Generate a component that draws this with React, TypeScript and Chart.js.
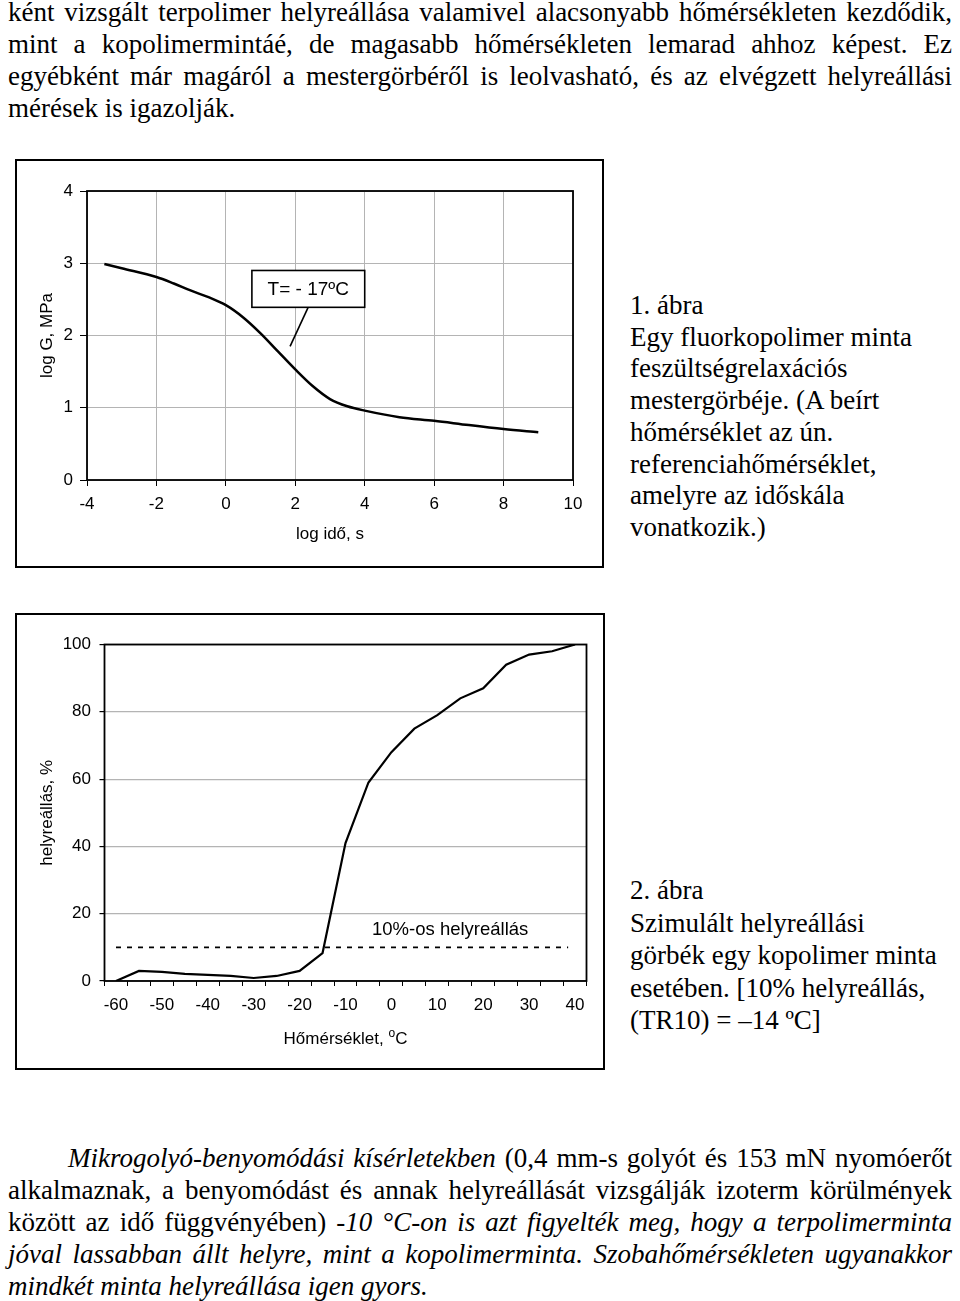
import React, { useEffect, useRef } from "react";
import { Chart, registerables } from "chart.js";

Chart.register(...registerables);

// ---- Chart 1: stress-relaxation master curve ----
const logTime = [-3.5, -3, -2, -1.5, -1, -0.5, 0, 0.5, 1, 1.5, 2, 2.5, 3, 3.5, 4, 5, 6, 7, 8, 9];
const logG = [2.99, 2.93, 2.81, 2.72, 2.62, 2.53, 2.42, 2.25, 2.03, 1.78, 1.53, 1.3, 1.12, 1.02, 0.96, 0.87, 0.82, 0.76, 0.705, 0.66];
const chart1XTitle = "log idő, s";
const chart1YTitle = "log G, MPa";
const chart1Label = "T= - 17ºC";
const chart1LabelBox = [0.75, 4.0, 2.9, 2.39]; // x1, x2, yTop, yBottom (data units)
const chart1Leader = [2.37, 2.39, 1.85, 1.85]; // x1, y1, x2, y2 (data units)

// ---- Chart 2: recovery vs temperature ----
const temps = [-60, -55, -50, -45, -40, -35, -30, -25, -20, -15, -10, -5, 0, 5, 10, 15, 20, 25, 30, 35, 40];
const recovery = [0, 3, 2.7, 2.1, 1.8, 1.5, 0.9, 1.5, 3, 8.3, 41, 59, 68, 75, 79, 84, 87, 94, 97, 98, 100];
const thresholdX = [-60, 38.5];
const thresholdY = [10, 10];
const thresholdLabel = "10%-os helyreállás";
const thresholdLabelPos = [12.8, 15.1];
const chart2YTitle = "helyreállás, %";
const chart2XTitleMain = "Hőmérséklet, ";
const chart2XTitleSup = "o";
const chart2XTitleEnd = "C";

const SANS = "'Liberation Sans', Arial, sans-serif";
const SERIF = "'Liberation Serif', 'Times New Roman', serif";
const GRID = "#b4b4b4";
const FS = 17;

Chart.defaults.font.family = SANS;
Chart.defaults.color = "#000";

function frame(chart: any) {
  const { ctx, chartArea: a } = chart;
  ctx.save();
  ctx.strokeStyle = "#000";
  ctx.lineWidth = 1.8;
  ctx.strokeRect(a.left, a.top, a.right - a.left, a.bottom - a.top);
  ctx.restore();
}

const chart1Plugin = {
  id: "chart1deco",
  afterDraw(chart: any) {
    frame(chart);
    const { ctx, scales } = chart;
    const x = scales.x, y = scales.y;
    ctx.save();
    ctx.strokeStyle = "#000";
    ctx.lineWidth = 1.6;
    ctx.beginPath();
    ctx.moveTo(x.getPixelForValue(chart1Leader[0]), y.getPixelForValue(chart1Leader[1]));
    ctx.lineTo(x.getPixelForValue(chart1Leader[2]), y.getPixelForValue(chart1Leader[3]));
    ctx.stroke();
    const bx1 = x.getPixelForValue(chart1LabelBox[0]);
    const bx2 = x.getPixelForValue(chart1LabelBox[1]);
    const by1 = y.getPixelForValue(chart1LabelBox[2]);
    const by2 = y.getPixelForValue(chart1LabelBox[3]);
    ctx.fillStyle = "#fff";
    ctx.fillRect(bx1, by1, bx2 - bx1, by2 - by1);
    ctx.strokeRect(bx1, by1, bx2 - bx1, by2 - by1);
    ctx.fillStyle = "#000";
    ctx.font = `19px ${SANS}`;
    ctx.textAlign = "center";
    ctx.textBaseline = "middle";
    ctx.fillText(chart1Label, (bx1 + bx2) / 2, (by1 + by2) / 2 + 1);
    ctx.restore();
  },
};

const chart2Plugin = {
  id: "chart2deco",
  afterDraw(chart: any) {
    frame(chart);
    const { ctx, scales, chartArea: a } = chart;
    ctx.save();
    ctx.fillStyle = "#000";
    ctx.textBaseline = "middle";
    ctx.textAlign = "center";
    ctx.font = `18.5px ${SANS}`;
    ctx.fillText(
      thresholdLabel,
      scales.x2.getPixelForValue(thresholdLabelPos[0]),
      scales.y.getPixelForValue(thresholdLabelPos[1])
    );
    ctx.textAlign = "left";
    ctx.textBaseline = "alphabetic";
    const mainFont = `${FS}px ${SANS}`;
    const supFont = `12px ${SANS}`;
    ctx.font = mainFont;
    const w1 = ctx.measureText(chart2XTitleMain).width;
    const w3 = ctx.measureText(chart2XTitleEnd).width;
    ctx.font = supFont;
    const w2 = ctx.measureText(chart2XTitleSup).width;
    const total = w1 + w2 + w3;
    let cx = (a.left + a.right) / 2 - total / 2;
    const base = a.bottom + 63;
    ctx.font = mainFont;
    ctx.fillText(chart2XTitleMain, cx, base);
    cx += w1;
    ctx.font = supFont;
    ctx.fillText(chart2XTitleSup, cx, base - 7);
    cx += w2;
    ctx.font = mainFont;
    ctx.fillText(chart2XTitleEnd, cx, base);
    ctx.restore();
  },
};

function Chart1() {
  const ref = useRef<HTMLCanvasElement>(null);
  useEffect(() => {
    const chart = new Chart(ref.current!, {
      type: "scatter",
      data: {
        datasets: [
          {
            data: logTime.map((t, i) => ({ x: t, y: logG[i] })),
            showLine: true,
            borderColor: "#000",
            borderWidth: 2.5,
            pointRadius: 0,
            cubicInterpolationMode: "monotone",
          },
        ],
      },
      options: {
        animation: false,
        responsive: false,
        events: [],
        layout: { padding: { left: 0, top: 31, right: 30, bottom: 0 } },
        plugins: { legend: { display: false }, tooltip: { enabled: false } },
        scales: {
          x: {
            type: "linear",
            min: -4,
            max: 10,
            afterFit: (s: any) => { s.height = 90; },
            ticks: { stepSize: 2, padding: 8, font: { size: FS }, color: "#000", maxRotation: 0 },
            grid: { color: GRID, tickColor: "#000", tickLength: 6, lineWidth: 1 },
            border: { display: false },
            title: { display: true, text: chart1XTitle, font: { size: FS }, color: "#000", padding: { top: 0, bottom: 25.8 } },
          },
          y: {
            type: "linear",
            min: 0,
            max: 4,
            afterFit: (s: any) => { s.width = 72; },
            ticks: { stepSize: 1, padding: 7, font: { size: FS }, color: "#000" },
            grid: { color: GRID, tickColor: "#000", tickLength: 7, lineWidth: 1 },
            border: { display: false },
            title: { display: true, text: chart1YTitle, font: { size: FS }, color: "#000", padding: { top: 21.8, bottom: 0 } },
          },
        },
      },
      plugins: [chart1Plugin],
    } as any);
    return () => chart.destroy();
  }, []);
  return <canvas ref={ref} width={588} height={410} style={{ position: "absolute", left: 15, top: 160, width: 588, height: 410 }} />;
}

function Chart2() {
  const ref = useRef<HTMLCanvasElement>(null);
  useEffect(() => {
    const chart = new Chart(ref.current!, {
      type: "line",
      data: {
        labels: temps.map(String),
        datasets: [
          {
            data: recovery,
            borderColor: "#000",
            borderWidth: 2.2,
            pointRadius: 0,
            tension: 0,
            xAxisID: "x",
          },
          {
            data: thresholdX.map((x, i) => ({ x, y: thresholdY[i] })),
            borderColor: "#000",
            borderWidth: 1.7,
            borderDash: [5, 6],
            pointRadius: 0,
            xAxisID: "x2",
          },
        ],
      },
      options: {
        animation: false,
        responsive: false,
        events: [],
        layout: { padding: { left: 0, top: 31.5, right: 18.5, bottom: 0 } },
        plugins: { legend: { display: false }, tooltip: { enabled: false } },
        scales: {
          x: {
            type: "category",
            offset: true,
            afterFit: (s: any) => { s.height = 89; },
            ticks: {
              autoSkip: false,
              maxRotation: 0,
              padding: 9,
              font: { size: FS },
              color: "#000",
              callback: (_v: any, i: number) => (i % 2 === 0 ? String(temps[i]) : ""),
            },
            grid: { offset: true, drawOnChartArea: false, tickColor: "#000", tickLength: 5 },
            border: { display: false },
          },
          x2: {
            type: "linear",
            min: -62.5,
            max: 42.5,
            display: false,
          },
          y: {
            type: "linear",
            min: 0,
            max: 100,
            afterFit: (s: any) => { s.width = 89.5; },
            ticks: { stepSize: 20, padding: 8.5, font: { size: FS }, color: "#000" },
            grid: { color: GRID, tickColor: "#000", tickLength: 5, lineWidth: 1.2 },
            border: { display: false },
            title: { display: true, text: chart2YTitle, font: { size: FS }, color: "#000", padding: { top: 21.8, bottom: 0 } },
          },
        },
      },
      plugins: [chart2Plugin],
    } as any);
    return () => chart.destroy();
  }, []);
  return <canvas ref={ref} width={590} height={457} style={{ position: "absolute", left: 15, top: 613, width: 590, height: 457 }} />;
}

const lineStyle = (top: number, left: number, width: number, justify: boolean): React.CSSProperties => ({
  position: "absolute",
  top,
  left,
  width,
  fontFamily: SERIF,
  fontSize: 27,
  lineHeight: "32px",
  textAlign: justify ? "justify" : "left",
  textAlignLast: justify ? "justify" : "left",
  color: "#000",
  whiteSpace: "normal",
} as React.CSSProperties);

export default function App() {
  const topLines = [
    "ként vizsgált terpolimer helyreállása valamivel alacsonyabb hőmérsékleten kezdődik,",
    "mint a kopolimermintáé, de magasabb hőmérsékleten lemarad ahhoz képest. Ez",
    "egyébként már magáról a mestergörbéről is leolvasható, és az elvégzett helyreállási",
    "mérések is igazolják.",
  ];
  const cap1 = [
    "1. ábra",
    "Egy fluorkopolimer minta",
    "feszültségrelaxációs",
    "mestergörbéje. (A beírt",
    "hőmérséklet az ún.",
    "referenciahőmérséklet,",
    "amelyre az időskála",
    "vonatkozik.)",
  ];
  const cap2 = [
    "2. ábra",
    "Szimulált helyreállási",
    "görbék egy kopolimer minta",
    "esetében. [10% helyreállás,",
    "(TR10) = –14 ºC]",
  ];
  const boxStyle = (left: number, top: number, w: number, h: number): React.CSSProperties => ({
    position: "absolute",
    left,
    top,
    width: w,
    height: h,
    border: "2px solid #000",
    boxSizing: "border-box",
  });
  return (
    <div style={{ position: "absolute", left: 0, top: 0, width: 960, height: 1301, background: "#fff", overflow: "hidden" }}>
      {topLines.map((t, i) => (
        <div key={"t" + i} style={lineStyle(-4 + i * 32, 8, 944, i < 3)}>{t}</div>
      ))}

      <div style={boxStyle(15, 159, 589, 409)} />
      <Chart1 />
      {cap1.map((t, i) => (
        <div key={"c1" + i} style={lineStyle(289 + i * 31.7, 630, 330, false)}>{t}</div>
      ))}

      <div style={boxStyle(15, 613, 590, 457)} />
      <Chart2 />
      {cap2.map((t, i) => (
        <div key={"c2" + i} style={lineStyle(874 + i * 32.5, 630, 330, false)}>{t}</div>
      ))}

      <div style={lineStyle(1142, 68, 884, true)}>
        <i>Mikrogolyó-benyomódási kísérletekben</i> (0,4 mm-s golyót és 153 mN nyomóerőt
      </div>
      <div style={lineStyle(1174, 8, 944, true)}>
        alkalmaznak, a benyomódást és annak helyreállását vizsgálják izoterm körülmények
      </div>
      <div style={lineStyle(1206, 8, 944, true)}>
        között az idő függvényében) <i>-10 °C-on is azt figyelték meg, hogy a terpolimerminta</i>
      </div>
      <div style={lineStyle(1238, 8, 944, true)}>
        <i>jóval lassabban állt helyre, mint a kopolimerminta. Szobahőmérsékleten ugyanakkor</i>
      </div>
      <div style={lineStyle(1270, 8, 944, false)}>
        <i>mindkét minta helyreállása igen gyors.</i>
      </div>
    </div>
  );
}
